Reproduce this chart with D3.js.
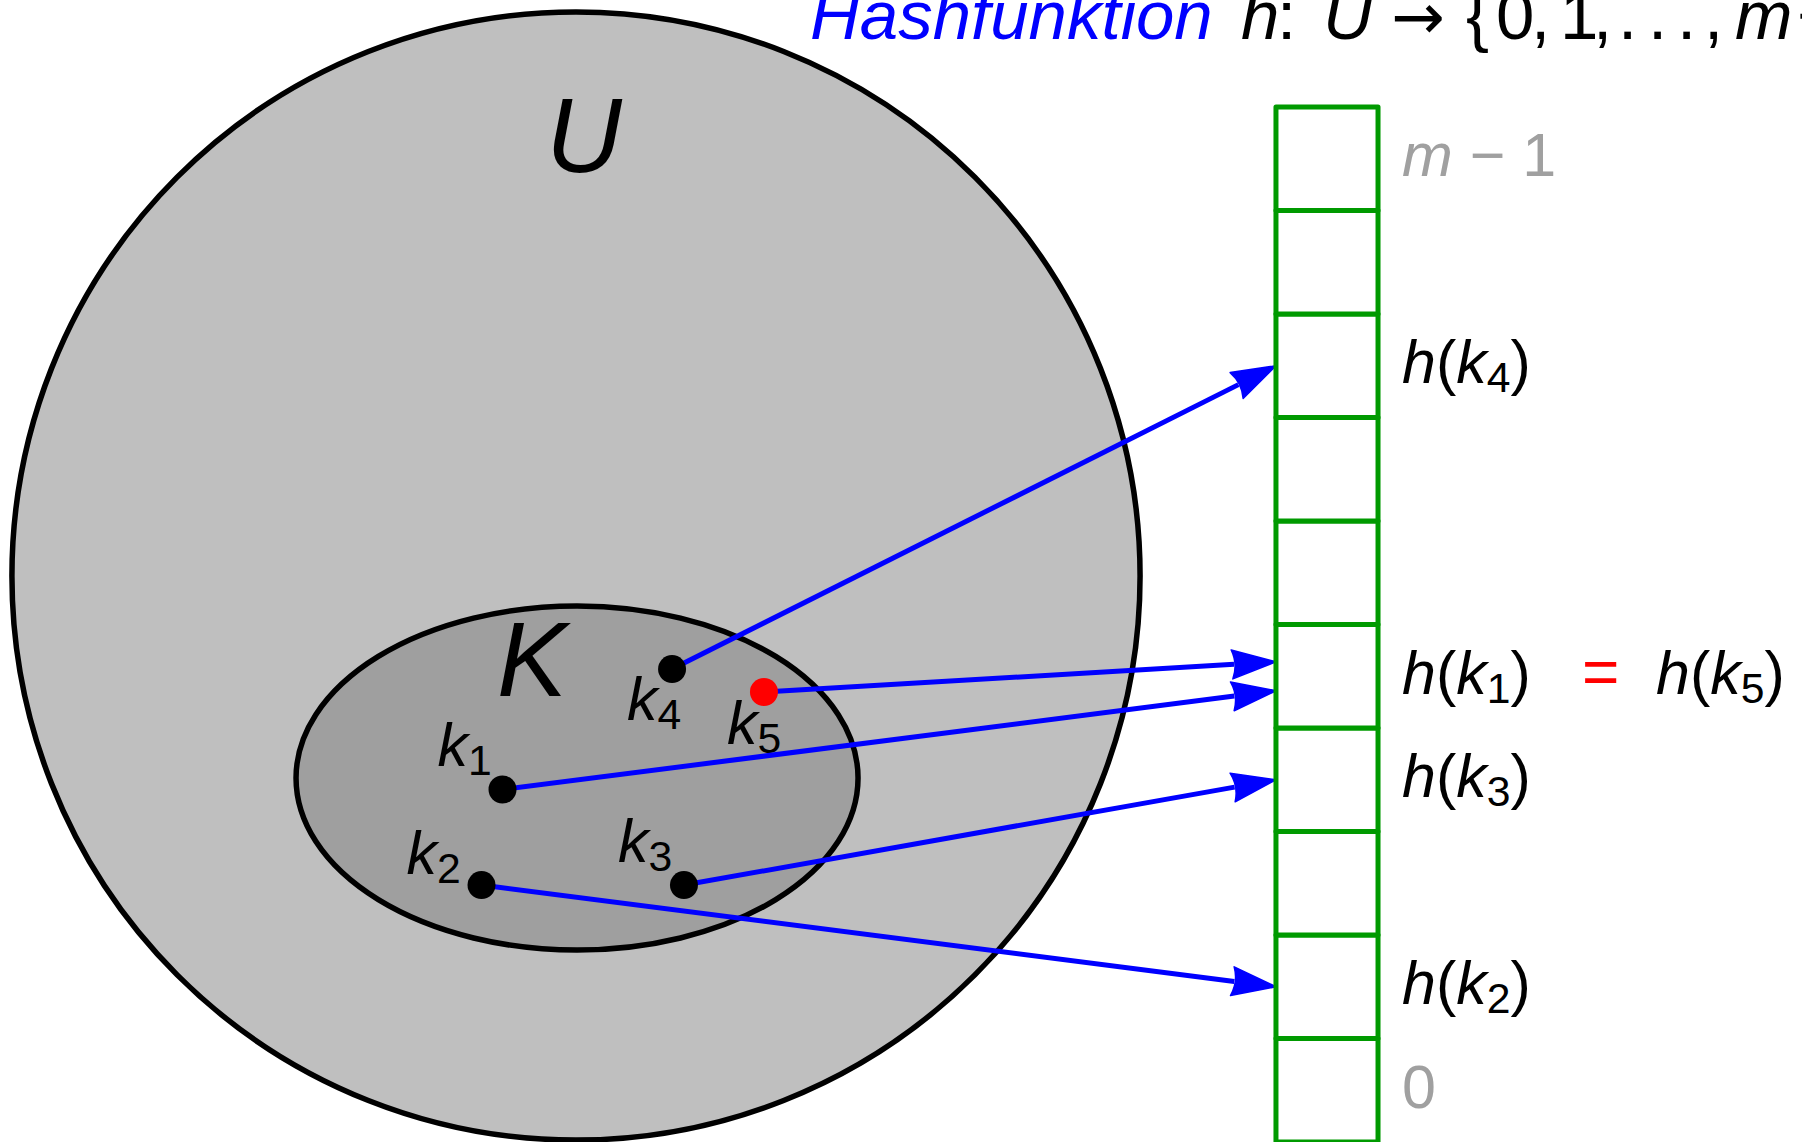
<!DOCTYPE html>
<html>
<head>
<meta charset="utf-8">
<script src="https://cdn.jsdelivr.net/npm/d3@7"></script>
<style>
  body { margin: 0; background: #fff; }
  svg { display: block; font-family: "Liberation Sans", Arial, sans-serif; }
</style>
</head>
<body>
<script>
// keys of the set K, given in diagram units (one unit = one table cell, origin = centre of U)
var keyNames = ["k1", "k2", "k3", "k4", "k5"];
var keyU     = [-0.710, -0.913, 1.043, 0.928, 1.816];
var keyV     = [-2.063, -2.986, -2.986, -0.899, -1.121];
var keySlot  = [4, 1, 3, 7, 4];
var collided = ["k5"];

// hash table with m slots
var slotCount  = 10;
var labelSlots = [9, 7, 4, 3, 1, 0];
var labelTexts = ["m − 1", "h(k4)", "h(k1)", "h(k3)", "h(k2)", "0"];

// title tokens
var titleWord   = "Hashfunktion";
var titleTokens = ["h", ":", "U", "→", "{", "0", ",", "1", ",", ".", ".", ".", ",", "m", "−"];
var titleItalic = ["h", "U", "m"];

// ---- layout ----
var W = 1802, H = 1142;
var unit = 103.5;
var x = d3.scaleLinear().domain([0, 1]).range([576, 576 + unit]);
var y = d3.scaleLinear().domain([0, 1]).range([576, 576 - unit]);

var universeR = 5.45;
var setCx = 0.01, setCy = -1.952, setRx = 2.715, setRy = 1.662;
var tableU = 6.763, tableW = 0.986, tableBottom = -5.469;

// slot index -> vertical position in diagram units
var slotY = d3.scaleLinear().domain([0, slotCount]).range([tableBottom, tableBottom + slotCount]);

// label placement around the dots (pixels)
var labelOffset = {k1: [-65, -24], k2: [-75, -11], k3: [-66, -23], k4: [-45, 51], k5: [-37, 52]};
var titleX = [1241, 1277, 1323, 1391, 1466, 1496, 1531, 1560, 1593, 1618, 1648, 1677, 1704, 1735, 1797];

var svg = d3.select("body").append("svg")
  .attr("width", W)
  .attr("height", H);

// universe U
svg.append("circle")
  .attr("cx", x(0)).attr("cy", y(0))
  .attr("r", x(universeR) - x(0))
  .attr("fill", "#bfbfbf")
  .attr("stroke", "#000")
  .attr("stroke-width", 5.5);

// set K
svg.append("ellipse")
  .attr("cx", x(setCx)).attr("cy", y(setCy))
  .attr("rx", x(setRx) - x(0))
  .attr("ry", y(0) - y(setRy))
  .attr("fill", "#9f9f9f")
  .attr("stroke", "#000")
  .attr("stroke-width", 5.5);

svg.append("text")
  .attr("x", 546).attr("y", 172)
  .attr("font-size", 105).attr("font-style", "italic")
  .text("U");

svg.append("text")
  .attr("x", 497).attr("y", 696)
  .attr("font-size", 105).attr("font-style", "italic")
  .text("K");

// writes something like h(k4) or k4 into a text element, digit after k as subscript
function richText(sel, str, size) {
  var parts = str.match(/k\d|[A-Za-z]|[^A-Za-z]+/g);
  var shift = 0;
  parts.forEach(function(p) {
    if (/^k\d$/.test(p)) {
      sel.append("tspan").attr("font-style", "italic").attr("dy", -shift).text("k");
      sel.append("tspan").attr("font-size", size * 0.7).attr("dy", 9).text(p[1]);
      shift = 9;
    } else {
      sel.append("tspan")
        .attr("font-style", /^[A-Za-z]$/.test(p) ? "italic" : "normal")
        .attr("dy", -shift)
        .text(p);
      shift = 0;
    }
  });
}

var keys = keyNames.map(function(n, i) {
  return {name: n, u: keyU[i], v: keyV[i], slot: keySlot[i]};
});

// spread arrow tips that land in the same slot
d3.groups(keys, function(d) { return d.slot; }).forEach(function(g) {
  var list = g[1].sort(function(a, b) { return b.v - a.v; });
  list.forEach(function(d, j) {
    d.tipOff = list.length > 1 ? 0.14 - 0.28 * j / (list.length - 1) : 0;
  });
});

// key labels
keys.forEach(function(d) {
  var t = svg.append("text")
    .attr("x", x(d.u) + labelOffset[d.name][0])
    .attr("y", y(d.v) + labelOffset[d.name][1])
    .attr("font-size", 61);
  richText(t, d.name, 61);
});

// arrows
var headL = 44, headW = 29;
keys.forEach(function(d) {
  var x0 = x(d.u), y0 = y(d.v);
  var x1 = x(tableU), y1 = y(slotY(d.slot + 0.5) + d.tipOff);
  var dx = x1 - x0, dy = y1 - y0, len = Math.sqrt(dx * dx + dy * dy);
  var ux = dx / len, uy = dy / len;
  var bx = x1 - ux * headL, by = y1 - uy * headL;
  svg.append("line")
    .attr("x1", x0).attr("y1", y0)
    .attr("x2", bx + ux * 2).attr("y2", by + uy * 2)
    .attr("stroke", "#0000ff")
    .attr("stroke-width", 5);
  svg.append("path")
    .attr("d", "M" + x1 + "," + y1 +
      "L" + (bx - uy * headW / 2) + "," + (by + ux * headW / 2) +
      "Q" + (bx + ux * 6) + "," + (by + uy * 6) + " " + (bx + uy * headW / 2) + "," + (by - ux * headW / 2) + "Z")
    .attr("fill", "#0000ff")
    .attr("stroke", "#0000ff")
    .attr("stroke-width", 1.5)
    .attr("stroke-linejoin", "round");
});

// dots
svg.selectAll(".key")
  .data(keys)
  .enter().append("circle")
  .attr("class", "key")
  .attr("cx", function(d) { return x(d.u); })
  .attr("cy", function(d) { return y(d.v); })
  .attr("r", 14)
  .attr("fill", function(d) { return collided.indexOf(d.name) >= 0 ? "#ff0000" : "#000"; });

// hash table
svg.selectAll(".slot")
  .data(d3.range(slotCount))
  .enter().append("rect")
  .attr("class", "slot")
  .attr("x", x(tableU))
  .attr("y", function(i) { return y(slotY(i + 1)); })
  .attr("width", x(tableW) - x(0))
  .attr("height", unit)
  .attr("fill", "#fff")
  .attr("stroke", "#009a00")
  .attr("stroke-width", 5)
  .attr("stroke-linejoin", "round");

// slot labels
var labelX = x(tableU + tableW) + 24;
labelSlots.forEach(function(s, i) {
  var grey = (s === 0 || s === slotCount - 1);
  var t = svg.append("text")
    .attr("x", labelX)
    .attr("y", y(slotY(s + 0.5)) + 17.5)
    .attr("font-size", 61)
    .attr("fill", grey ? "#a0a0a0" : "#000");
  richText(t, labelTexts[i], 61);
});

// collision: h(k1) = h(k5)
var col = keys.filter(function(d) { return collided.indexOf(d.name) >= 0; })[0];
var colY = y(slotY(col.slot + 0.5)) + 17.5;
svg.append("text")
  .attr("x", 1582).attr("y", colY)
  .attr("font-size", 64)
  .attr("fill", "#ff0000")
  .text("=");
var t5 = svg.append("text")
  .attr("x", 1656).attr("y", colY)
  .attr("font-size", 61);
richText(t5, "h(" + col.name + ")", 61);

// title
svg.append("text")
  .attr("x", 810).attr("y", 39)
  .attr("font-size", 69)
  .attr("font-style", "italic")
  .attr("fill", "#0000ff")
  .text(titleWord);

titleTokens.forEach(function(tok, i) {
  svg.append("text")
    .attr("x", titleX[i]).attr("y", 39)
    .attr("font-size", tok === "→" ? 64 : 69)
    .attr("font-family", tok === "→" ? "DejaVu Sans" : null)
    .attr("font-style", titleItalic.indexOf(tok) >= 0 ? "italic" : "normal")
    .text(tok);
});
</script>
</body>
</html>
